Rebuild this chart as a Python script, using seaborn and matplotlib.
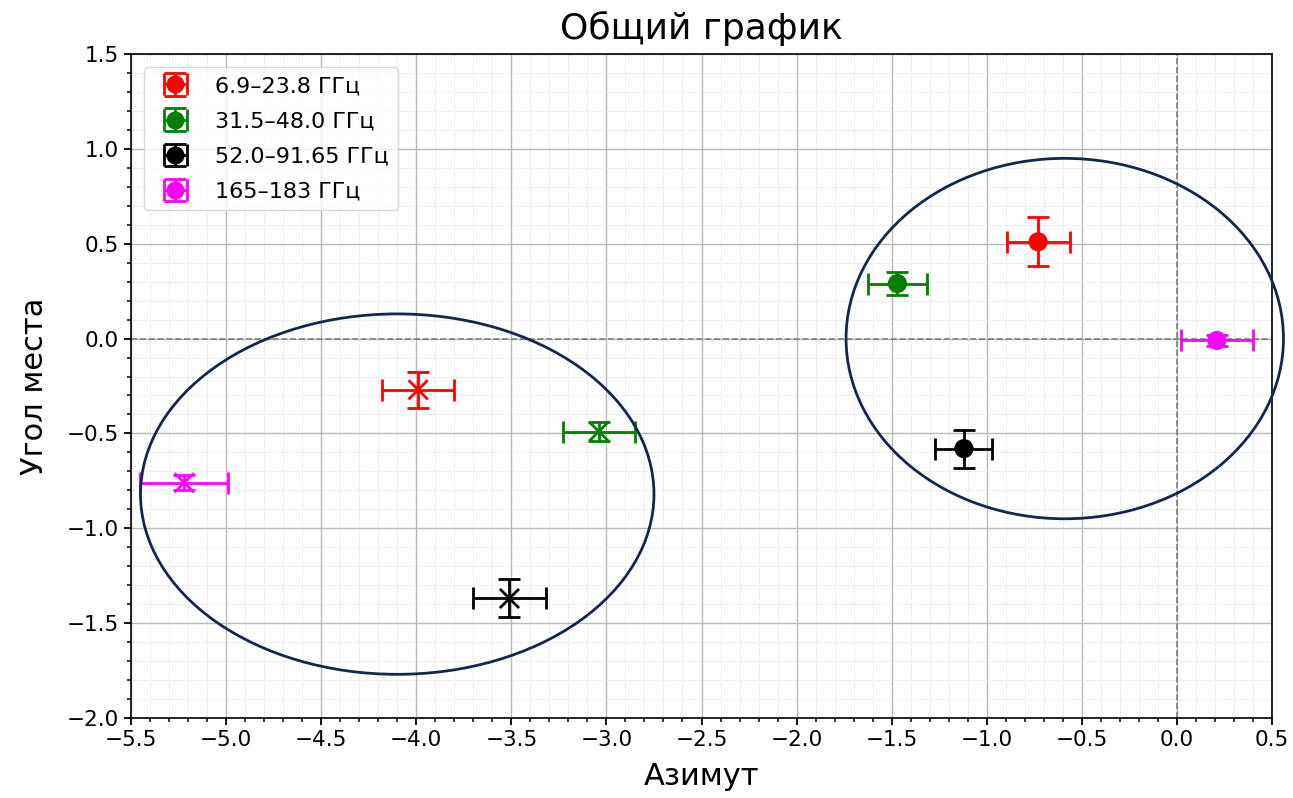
import numpy as np
import pandas as pd
import matplotlib
matplotlib.use("Agg")
import matplotlib.pyplot as plt
from matplotlib.patches import Ellipse
from matplotlib.ticker import MultipleLocator
from matplotlib.legend_handler import HandlerTuple
from matplotlib.lines import Line2D
import seaborn as sns

# Frequency bands
bands = ["6.9–23.8 ГГц", "31.5–48.0 ГГц", "52.0–91.65 ГГц", "165–183 ГГц"]
colors = ["red", "green", "black", "magenta"]

# Group 1 (circles)
az_1 = [-0.73, -1.47, -1.12, 0.21]
el_1 = [0.51, 0.29, -0.58, -0.01]
az_err_1 = [0.165, 0.155, 0.15, 0.19]
el_err_1 = [0.13, 0.06, 0.10, 0.03]

# Group 2 (crosses)
az_2 = [-3.99, -3.04, -3.51, -5.22]
el_2 = [-0.27, -0.49, -1.37, -0.76]
az_err_2 = [0.19, 0.19, 0.19, 0.23]
el_err_2 = [0.095, 0.05, 0.10, 0.04]

# Outline ellipses: centre x, centre y, width, height
ell_cx = [-4.1, -0.59]
ell_cy = [-0.82, 0.0]
ell_w = [2.7, 2.3]
ell_h = [1.9, 1.9]

df = pd.DataFrame({
    "az": az_1 + az_2,
    "el": el_1 + el_2,
    "az_err": az_err_1 + az_err_2,
    "el_err": el_err_1 + el_err_2,
    "band": bands * 2,
    "group": ["g1"] * 4 + ["g2"] * 4,
})
palette = dict(zip(bands, colors))

fig, ax = plt.subplots(figsize=(12.93, 7.98), dpi=100)
fig.subplots_adjust(left=0.1013, right=0.9838, top=0.9323, bottom=0.1003)

ax.axhline(0, color="gray", ls="--", lw=1.2, zorder=1)
ax.axvline(0, color="gray", ls="--", lw=1.2, zorder=1)

containers = {}
for _, r in df.iterrows():
    c = ax.errorbar(r["az"], r["el"], xerr=r["az_err"], yerr=r["el_err"],
                    fmt="none", ecolor=palette[r["band"]], elinewidth=2,
                    capsize=8, capthick=2, zorder=3)
    if r["group"] == "g1":
        containers[r["band"]] = c

sns.scatterplot(data=df[df["group"] == "g1"], x="az", y="el", hue="band",
                palette=palette, marker="o", s=190, edgecolor="none",
                legend=False, ax=ax, zorder=4)
sns.scatterplot(data=df[df["group"] == "g2"], x="az", y="el", hue="band",
                palette=palette, marker="x", s=190, linewidth=2,
                legend=False, ax=ax, zorder=4)

for cx, cy, w, h in zip(ell_cx, ell_cy, ell_w, ell_h):
    ax.add_patch(Ellipse((cx, cy), w, h, fill=False, edgecolor="#14264a",
                         lw=2, clip_on=False, zorder=5))

ax.set_xlim(-5.5, 0.5)
ax.set_ylim(-2.0, 1.5)
ax.xaxis.set_major_locator(MultipleLocator(0.5))
ax.yaxis.set_major_locator(MultipleLocator(0.5))
ax.xaxis.set_minor_locator(MultipleLocator(0.1))
ax.yaxis.set_minor_locator(MultipleLocator(0.1))
ax.grid(which="major", color="#b8b8b8", lw=1.0)
ax.grid(which="minor", color="#d8d8d8", lw=0.7, ls=":")
ax.set_axisbelow(True)
ax.tick_params(which="major", labelsize=15.5, length=5, width=1.3)
ax.tick_params(which="minor", length=3, width=1.1)
for s in ax.spines.values():
    s.set_linewidth(1.2)

ax.set_title("Общий график", fontsize=26, pad=11)
ax.set_xlabel("Азимут", fontsize=22, labelpad=9)
ax.set_ylabel("Угол места", fontsize=22, labelpad=13)

handles = []
for b, col in zip(bands, colors):
    mk = Line2D([], [], marker="o", color=col, ls="none", markersize=12)
    handles.append((containers[b], mk))
ax.legend(handles, bands, loc="upper left", fontsize=16, labelspacing=0.68,
          borderaxespad=0.6,
          handler_map={tuple: HandlerTuple(ndivide=1)})

fig.savefig("out.png", dpi=100)
